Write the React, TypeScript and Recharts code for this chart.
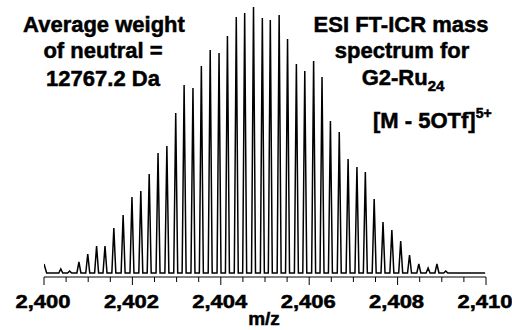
import React from "react";
import { LineChart, Line, XAxis, YAxis } from "recharts";

// isotope peak centres (m/z) and their apex intensity
const peakMz = [
  2400.38, 2400.58, 2400.79, 2400.99, 2401.19, 2401.38, 2401.58, 2401.79, 2401.99,
  2402.19, 2402.38, 2402.58, 2402.78, 2402.98, 2403.17, 2403.37, 2403.56, 2403.76,
  2403.96, 2404.15, 2404.35, 2404.54, 2404.74, 2404.94, 2405.12, 2405.32, 2405.51,
  2405.71, 2405.9, 2406.1, 2406.29, 2406.48, 2406.68, 2406.88, 2407.08, 2407.27,
  2407.47, 2407.67, 2407.87, 2408.07, 2408.27, 2408.48, 2408.69, 2408.89, 2409.09,
];
const peakIntensity = [
  8, 6, 15, 23, 31, 31, 49, 62, 80,
  86, 103, 124, 131, 164, 192, 189, 211, 227,
  224, 241, 260, 264, 270, 259, 257, 262, 238,
  213, 206, 216, 200, 156, 145, 118, 110, 105,
  78, 55, 47, 36, 22, 13, 9, 13, 6,
];
const traceStart = { mz: 2400, y: 13 };
const traceEnd = { mz: 2409.98, y: 4 };
const baseline = 4;

const majorTicks = [2400, 2402, 2404, 2406, 2408, 2410];
const allTicks = [
  2400, 2400.5, 2401, 2401.5, 2402, 2402.5, 2403, 2403.5, 2404, 2404.5, 2405,
  2405.5, 2406, 2406.5, 2407, 2407.5, 2408, 2408.5, 2409, 2409.5, 2410,
];

const data: { mz: number; y: number }[] = [traceStart, { mz: 2400.06, y: baseline }];
peakMz.forEach((m, i) => {
  data.push({ mz: m - 0.045, y: baseline });
  data.push({ mz: m, y: peakIntensity[i] });
  data.push({ mz: m + 0.045, y: baseline });
});
data.push(traceEnd);

const font = "'Liberation Sans', Arial, sans-serif";

function Tick(props: any) {
  const { x, y, payload } = props;
  const major = majorTicks.includes(payload.value);
  return (
    <g>
      <line x1={x} y1={y} x2={x} y2={y + (major ? 8 : 5)} stroke="#000" strokeWidth={1} />
      {major && (
        <text
          x={x - 1}
          y={y + 31}
          textAnchor="middle"
          fontFamily={font}
          fontWeight="bold"
          fontSize={18}
          fill="#000"
          stroke="#000"
          strokeWidth={0.5}
          textLength={55}
          lengthAdjust="spacingAndGlyphs"
        >
          {payload.value.toLocaleString("en-US")}
        </text>
      )}
    </g>
  );
}

export default function App() {
  return (
    <div style={{ position: "absolute", left: 0, top: 0, width: 512, height: 330, background: "#fff" }}>
      <LineChart width={512} height={330} data={data} margin={{ top: 7, right: 26, left: 44, bottom: 0 }}>
        <XAxis
          dataKey="mz"
          type="number"
          domain={[2400, 2410]}
          ticks={allTicks}
          interval={0}
          height={53}
          tickLine={false}
          tickSize={0}
          tickMargin={0}
          axisLine={{ stroke: "#000", strokeWidth: 1 }}
          tick={<Tick />}
          allowDataOverflow
        />
        <YAxis hide domain={[0, 270]} allowDataOverflow />
        <Line
          type="linear"
          dataKey="y"
          stroke="#000"
          strokeWidth={1.5}
          dot={false}
          isAnimationActive={false}
        />
      </LineChart>
      <svg
        width={512}
        height={330}
        style={{ position: "absolute", left: 0, top: 0, pointerEvents: "none" }}
        fontFamily={font}
        fontWeight="bold"
        fill="#000"
        stroke="#000"
        strokeWidth={0.5}
      >
        <g fontSize={22} textAnchor="middle">
          <text x={104} y={32}>Average weight</text>
          <text x={103} y={58}>of neutral =</text>
          <text x={103} y={86}>12767.2 Da</text>
          <text x={401} y={32}>ESI FT-ICR mass</text>
          <text x={402} y={58}>spectrum for</text>
          <text x={403} y={85}>
            G2-Ru<tspan dy={6} fontSize={15}>24</tspan>
          </text>
        </g>
        <text x={373} y={128} fontSize={22}>
          [M - 5OTf]<tspan dy={-10} fontSize={14}>5+</tspan>
        </text>
        <text x={264} y={325} fontSize={19} textAnchor="middle">m/z</text>
      </svg>
    </div>
  );
}
